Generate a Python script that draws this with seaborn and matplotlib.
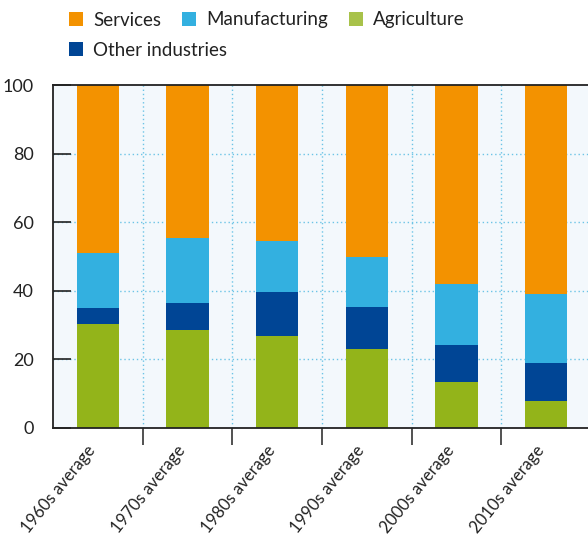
import matplotlib
matplotlib.use("Agg")
import matplotlib.pyplot as plt
import matplotlib.transforms as mtransforms
import seaborn as sns
import pandas as pd
import numpy as np
from matplotlib.patches import Patch

categories = ["1960s average", "1970s average", "1980s average",
              "1990s average", "2000s average", "2010s average"]
agriculture = [30.4, 28.6, 26.9, 23.1, 13.5, 8.0]
other_industries = [4.6, 7.9, 12.8, 12.2, 10.8, 11.0]
manufacturing = [16.1, 19.0, 14.9, 14.6, 17.8, 20.2]
services = [100 - a - o - m for a, o, m in zip(agriculture, other_industries, manufacturing)]

colors = {"Services": "#F39200", "Manufacturing": "#33B0E0",
          "Agriculture": "#93B41A", "Other industries": "#004595"}
legend_colors = {"Services": "#F39200", "Manufacturing": "#33B0E0",
                 "Agriculture": "#A8C24A", "Other industries": "#004595"}

sns.set_theme(style="white")
plt.rcParams["font.family"] = ["Lato", "DejaVu Sans"]

df = pd.DataFrame({"cat": categories,
                   "Agriculture": agriculture,
                   "Other industries": other_industries,
                   "Manufacturing": manufacturing,
                   "Services": services})
order = ["Agriculture", "Other industries", "Manufacturing", "Services"]
cum = df[order].cumsum(axis=1)

fig = plt.figure(figsize=(5.88, 5.38), dpi=100)
ax = fig.add_axes([53 / 588, 1 - 428 / 538, 538 / 588, 343 / 538])
ax.set_facecolor("#F3F8FC")

for name in reversed(order):
    sns.barplot(x=df["cat"], y=cum[name], color=colors[name], width=0.47,
                saturation=1, ax=ax, zorder=2, edgecolor="none", linewidth=0)

ax.set_xlim(-0.5, 5.5)
ax.set_ylim(0, 100)
ax.set_xlabel("")
ax.set_ylabel("")
ax.set_axisbelow(False)

ax.grid(False)
for y in [20, 40, 60, 80]:
    ax.axhline(y, color="#6CC4E6", linestyle=(0, (1, 2)), linewidth=1, zorder=1)
for x in np.arange(0.5, 5.0, 1.0):
    ax.axvline(x, color="#6CC4E6", linestyle=(0, (1, 2)), linewidth=1, zorder=1)

ax.set_yticks([0, 20, 40, 60, 80, 100])
ax.tick_params(axis="y", direction="in", length=13, width=1.2, color="#222222",
               labelsize=13, pad=14, labelcolor="#222222", left=True)
ax.set_xticks(range(len(categories)))
ax.set_xticklabels(categories, rotation=51, ha="right", va="center",
                   rotation_mode="anchor", fontsize=12, color="#222222")
ax.tick_params(axis="x", which="major", length=0, pad=14)
offset = mtransforms.ScaledTranslation(-5 / 100, 0, fig.dpi_scale_trans)
for lab in ax.get_xticklabels():
    lab.set_transform(lab.get_transform() + offset)
ax.set_xticks(np.arange(0.5, 5.0, 1.0), minor=True)
ax.tick_params(axis="x", which="minor", direction="out", length=12, width=1.2,
               color="#333333", bottom=True)

for s in ["left", "bottom", "top"]:
    ax.spines[s].set_visible(True)
    ax.spines[s].set_color("#222222")
    ax.spines[s].set_linewidth(1.3)
    ax.spines[s].set_zorder(3)
ax.spines["right"].set_visible(False)

row1 = ["Services", "Manufacturing", "Agriculture"]
row2 = ["Other industries"]
common = dict(frameon=False, fontsize=13.5, handlelength=0.75, handleheight=0.75,
              handletextpad=0.55, columnspacing=1.1, labelcolor="#222222",
              borderpad=0, borderaxespad=0)
fig.legend([Patch(facecolor=legend_colors[n], edgecolor="none") for n in row1], row1,
           loc="center left", bbox_to_anchor=(69 / 588, 1 - 20 / 538), ncol=3, **common)
fig.legend([Patch(facecolor=legend_colors[n], edgecolor="none") for n in row2], row2,
           loc="center left", bbox_to_anchor=(69 / 588, 1 - 50 / 538), ncol=1, **common)

fig.savefig("out.png", dpi=100)
